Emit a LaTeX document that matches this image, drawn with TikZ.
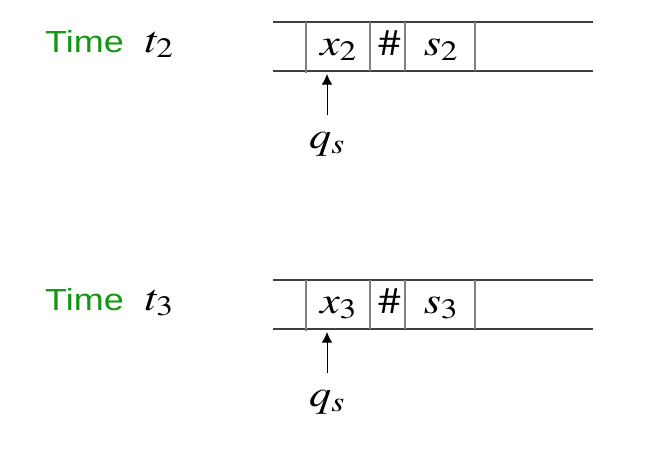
\documentclass[tikz,border=0pt]{standalone}
\usepackage{mathptmx}
\usepackage[no-math]{fontspec}
\newfontfamily\labelfont{Liberation Sans}
\usepackage{xcolor}
\usetikzlibrary{arrows.meta}
\definecolor{timegreen}{RGB}{20,150,20}
\DeclareMathSizes{32}{32}{24}{18}
\newcommand{\wide}[1]{\scalebox{1.18}[1]{#1}}

\begin{document}
\begin{tikzpicture}[x=0.03cm,y=-0.03cm,>={Latex[length=9pt,width=9pt]},
    tapeline/.style={draw=black!75,line width=0.9pt},
    cellline/.style={draw=black!50,line width=0.9pt},
    symb/.style={inner sep=0pt,font=\fontsize{32}{34}\selectfont},
    timelbl/.style={inner sep=0pt,anchor=base west,text=timegreen,font=\labelfont\fontsize{26}{28}\selectfont}]
  \useasboundingbox (0,0) rectangle (659,465);
  \foreach \y/\t in {0/2,258/3}{
    % tape
    \draw[tapeline] (273,22+\y) -- (593,22+\y);
    \draw[tapeline] (273,71+\y) -- (593,71+\y);
    \foreach \x in {306,370,405,475}
      \draw[cellline] (\x,22+\y) -- (\x,71+\y);
    \draw[cellline] (306,71+\y) -- (306,73+\y);
    % contents
    \node[symb,anchor=base] (x\t) at (338.5,55+\y) {\wide{$x_{\t}$}};
    \node[symb,anchor=base] (hash\t) at (389.5,55+\y) {\wide{$\#$}};
    \node[symb,anchor=base] (s\t) at (441,55+\y) {\wide{$s_{\t}$}};
    % time label
    \node[timelbl] (time\t) at (45,52+\y) {\wide{Time}};
    \node[symb,anchor=base west] (t\t) at (145,52+\y) {\wide{$t_{\t}$}};
    % head
    \node[symb,anchor=base west] (q\t) at (309,148+\y) {\wide{$q_s$}};
    \coordinate (head\t) at (327,74+\y);
    \draw[->,line width=0.8pt] (head\t |- q\t.north) ++(0,-16) -- (head\t);
  }
\end{tikzpicture}
\end{document}
